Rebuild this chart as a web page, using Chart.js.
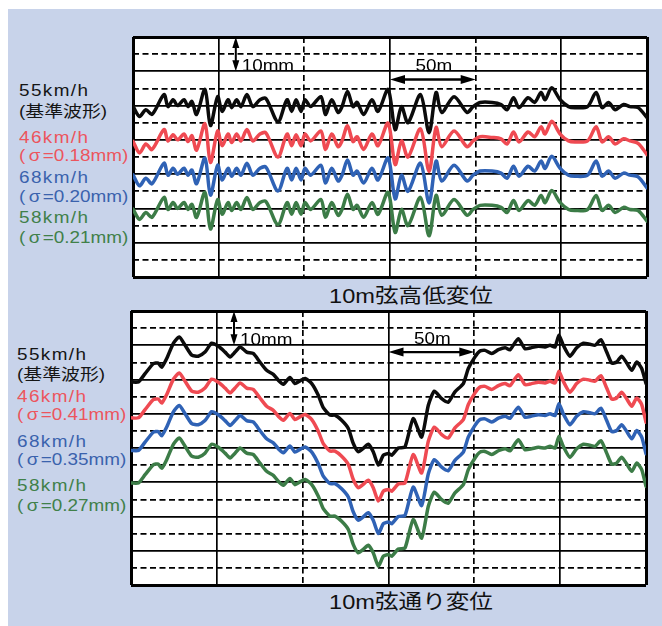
<!DOCTYPE html>
<html>
<head>
<meta charset="utf-8">
<script src="https://cdn.jsdelivr.net/npm/chart.js@4/dist/chart.umd.min.js"></script>
<style>
	body { margin: 0; width: 662px; height: 626px; position: relative; overflow: hidden; background: #fff;
		font-family: "Liberation Sans", "Noto Sans CJK JP", sans-serif; }
	#panel { position: absolute; left: 8px; top: 9px; width: 654px; height: 617px; background: #c8d3ea; }
	canvas { position: absolute; }
	.lbl { position: absolute; font-size: 16px; line-height: 16px; white-space: nowrap;
		transform: scaleX(1.18); transform-origin: 0 0; }
	.spd { letter-spacing: 1.2px; }
	.sg { margin: 0 2px 0 3px; }
	.ttl { position: absolute; width: 240px; text-align: center; font-size: 20px; line-height: 20px;
		white-space: nowrap; transform: scaleX(1.18); transform-origin: 50% 0; color: #111; }
</style>
</head>
<body>
<div id="panel"></div>
<canvas id="cntx_high" width="520" height="246" style="left:130px;top:34px"></canvas>
<canvas id="cntx_line" width="521" height="280" style="left:128px;top:308px"></canvas>
<script>
// distance along track (m)
const highDist = [0, 3.8, 7.5, 11.1, 18.1, 20.4, 23.4, 26, 29.8, 32.1,
	34.4, 37.1, 42, 45.2, 49.4, 52, 55.5, 57.6, 60.5, 63,
	66.5, 69.9, 74.1, 77.6, 84.6, 89.9, 92.6, 95.2, 98.1, 100.4,
	103.7, 109.7, 112.3, 116, 119.7, 122, 125.2, 128.4, 130.8, 134.6,
	139.5, 143, 148.9, 153, 156.7, 160.5, 167.8, 172.8, 176.9, 180.2,
	187.4, 195, 198.5, 202.6, 209.6, 214.8, 218.3, 222.1, 225.3, 230.6,
	234.4, 238.2, 240.5, 244.4, 249.3, 254.2, 257.9, 265.3, 270.3, 273.8,
	277.6, 281.4, 286.3, 290, 294.8, 300];

// 10m弦高低変位 (mm, traces shown with display offsets)
const high55 = [49.8, 46.8, 48.8, 47.4, 53.2, 49.7, 51.7, 50, 51.7, 49.7,
	51.2, 47.4, 54.7, 44.2, 52.6, 48.3, 51.7, 49.4, 51.7, 49.7,
	53.2, 49.7, 51.7, 52, 45.3, 51.7, 48.3, 51.7, 48.3, 51.7,
	49.7, 52.6, 47.4, 51.7, 48, 49.7, 54.1, 49.7, 50.9, 47.4,
	51.7, 48.3, 54.7, 43, 49.7, 45, 53.2, 42.1, 53.8, 48,
	52.6, 48, 49.7, 50.9, 50.9, 50.3, 48.8, 52.3, 49.4, 52.3,
	50.9, 53.8, 51.7, 55.2, 51.7, 49.7, 49.4, 49.7, 53.8, 49.4,
	50.9, 48.8, 50.3, 49.7, 49.4, 46.5];
const high46 = [39.6, 36.2, 38.8, 37.2, 43.0, 39.7, 41.5, 40, 41.7, 39.5,
	41.2, 37.0, 44.7, 33.4, 42.6, 38.3, 41.7, 39.2, 41.7, 39.7,
	43.0, 39.7, 41.7, 42, 35.0, 41.7, 38.3, 41.5, 38.3, 41.7,
	39.7, 42.6, 37.2, 41.7, 38, 39.7, 44.1, 39.5, 40.9, 37.2,
	41.7, 38.3, 44.9, 32.8, 39.7, 35, 43.2, 30.8, 43.6, 38,
	42.6, 38, 39.7, 40.9, 40.7, 40.3, 38.8, 42.3, 39.4, 42.3,
	40.9, 43.8, 41.7, 45.4, 41.7, 39.7, 39.4, 39.7, 43.8, 39.4,
	40.9, 38.8, 40.3, 39.7, 39.0, 35.7];
const high68 = [29.8, 26.6, 28.8, 27.2, 33.2, 29.7, 31.7, 30, 31.7, 29.7,
	31.2, 27.2, 34.7, 23.9, 32.6, 28.3, 31.7, 29.4, 31.7, 29.7,
	33.2, 29.7, 31.7, 32, 25.1, 31.7, 28.3, 31.7, 28.3, 31.7,
	29.7, 32.6, 27.4, 31.7, 28, 29.7, 34.1, 29.7, 30.9, 27.4,
	31.7, 28.3, 34.7, 22.8, 29.7, 25, 33.2, 21.6, 33.8, 28,
	32.6, 28, 29.7, 30.9, 30.9, 30.3, 28.8, 32.3, 29.4, 32.3,
	30.9, 33.8, 31.7, 35.2, 31.7, 29.7, 29.4, 29.7, 33.8, 29.4,
	30.9, 28.8, 30.3, 29.7, 29.2, 26.0];
const high58 = [19.8, 16.8, 18.8, 17.4, 23.2, 19.7, 21.7, 20, 21.7, 19.7,
	21.2, 17.4, 24.7, 14.0, 22.6, 18.3, 21.7, 19.4, 21.7, 19.7,
	23.2, 19.7, 21.7, 22, 15.3, 21.7, 18.3, 21.7, 18.3, 21.7,
	19.7, 22.6, 17.4, 21.7, 18, 19.7, 24.1, 19.7, 20.9, 17.4,
	21.7, 18.3, 24.7, 13, 19.7, 15, 23.2, 12.0, 23.8, 18,
	22.6, 18, 19.7, 20.9, 20.9, 20.3, 18.8, 22.3, 19.4, 22.3,
	20.9, 23.8, 21.7, 25.2, 21.7, 19.7, 19.4, 19.7, 23.8, 19.4,
	20.9, 18.8, 20.3, 19.7, 19.4, 16.3];

const lineDist = [0, 4.3, 8.2, 13, 15.9, 17.9, 20.8, 24.6, 28.1, 31.5,
	35.4, 39.2, 43.1, 47, 50.9, 54.8, 57.7, 60.6, 63.5, 67.4,
	71.2, 75.1, 79, 82.9, 85.8, 88.7, 92.6, 95.5, 98.4, 101.4,
	105.3, 109.1, 112, 115.9, 118.8, 122.7, 126.6, 129.5, 132.4, 135.3,
	138.2, 141.1, 144.1, 147, 149.9, 151.9, 155.7, 159.6, 164.4, 169.3,
	173.2, 176.7, 181, 184.8, 188.7, 193.6, 196.5, 200.4, 203.3, 206.2,
	210.1, 214, 217.9, 220.8, 225.6, 229.5, 233.4, 237.3, 241.2, 244.1,
	247, 249.3, 251.8, 255.7, 259.6, 263.5, 267.4, 270.3, 273.8, 277.1,
	280, 282.9, 285.8, 288.8, 291.7, 294.6, 297.5, 300];

// 10m弦通り変位 (mm, traces shown with display offsets)
const line55 = [59.3, 59.3, 61.7, 64.6, 64.8, 63.6, 66.1, 70.5, 72.4, 70,
	67.1, 66.8, 68, 70.6, 69.7, 68, 66.6, 68, 69.5, 68,
	67.6, 65.1, 62.7, 61.5, 59.8, 58.6, 60.6, 58.8, 59.6, 60.3,
	58.8, 55.4, 51.8, 49.6, 49.6, 48.1, 45.7, 41.3, 38.9, 39.9,
	41.1, 38.9, 35, 37.9, 38.4, 37.9, 40, 40.3, 48.6, 43.2,
	52.5, 56.6, 54.4, 53.4, 56.4, 58.8, 63.2, 66.6, 68.3, 68.5,
	67.6, 68.7, 69.3, 68.7, 71.9, 69, 69.3, 69.7, 69.5, 70,
	69.5, 72.9, 70, 66.8, 69.3, 70.6, 70.3, 70, 71.6, 68,
	64.8, 65.1, 66.8, 64.8, 62.7, 65.1, 63.2, 58.8];
const line46 = [48.8, 48.8, 51.2, 54.1, 54.3, 53.1, 55.6, 60, 61.9, 59.5,
	56.6, 56.3, 57.5, 60.1, 59.2, 57.5, 56.1, 57.5, 59, 57.5,
	57.1, 54.6, 52.2, 51, 49.3, 48.1, 50.1, 48.3, 49.1, 49.8,
	48.3, 44.9, 41.3, 39.1, 39.1, 37.6, 35.2, 30.8, 28.4, 29.4,
	30.6, 28.4, 24.5, 27.4, 27.9, 27.4, 29.5, 29.8, 38.1, 32.7,
	42, 46.1, 43.9, 42.9, 45.9, 48.3, 52.7, 56.1, 57.8, 58,
	57.1, 58.2, 58.8, 58.2, 61.4, 58.5, 58.8, 59.2, 59, 59.5,
	59, 62.4, 59.5, 56.3, 58.8, 60.1, 59.8, 59.5, 61.1, 57.5,
	54.3, 54.6, 56.3, 54.3, 52.2, 54.6, 52.7, 47.5];
const line68 = [39.3, 39.3, 41.7, 44.6, 44.8, 43.6, 46.1, 50.5, 52.4, 50,
	47.1, 46.8, 48, 50.6, 49.7, 48, 46.6, 48, 49.5, 48,
	47.6, 45.1, 42.7, 41.5, 39.8, 38.6, 40.6, 38.8, 39.6, 40.3,
	38.8, 35.4, 31.8, 29.6, 29.6, 28.1, 25.7, 21.3, 18.9, 19.9,
	21.1, 18.9, 15, 17.9, 18.4, 17.9, 20, 20.3, 28.6, 23.2,
	32.5, 36.6, 34.4, 33.4, 36.4, 38.8, 43.2, 46.6, 48.3, 48.5,
	47.6, 48.7, 49.3, 48.7, 51.9, 49, 49.3, 49.7, 49.5, 50,
	49.5, 52.9, 50, 46.8, 49.3, 50.6, 50.3, 50, 51.6, 48,
	44.8, 45.1, 46.8, 44.8, 42.7, 45.1, 43.2, 38.3];
const line58 = [29.8, 29.8, 32.2, 35.1, 35.3, 34.1, 36.6, 41, 42.9, 40.5,
	37.6, 37.3, 38.5, 41.1, 40.2, 38.5, 37.1, 38.5, 40, 38.5,
	38.1, 35.6, 33.2, 32, 30.3, 29.1, 31.1, 29.3, 30.1, 30.8,
	29.3, 25.9, 22.3, 20.1, 20.1, 18.6, 16.2, 11.8, 9.4, 10.4,
	11.6, 9.4, 5.5, 8.4, 8.9, 8.4, 10.5, 10.8, 19.1, 13.7,
	23, 27.1, 24.9, 23.9, 26.9, 29.3, 33.7, 37.1, 38.8, 39,
	38.1, 39.2, 39.8, 39.2, 42.4, 39.5, 39.8, 40.2, 40, 40.5,
	40, 43.4, 40.5, 37.3, 39.8, 41.1, 40.8, 40.5, 42.1, 38.5,
	35.3, 35.6, 37.3, 35.3, 33.2, 35.6, 33.7, 28.8];

const speeds = ["55km/h", "46km/h", "68km/h", "58km/h"];
const highNotes = ["(基準波形)", "(σ=0.18mm)", "(σ=0.20mm)", "(σ=0.21mm)"];
const lineNotes = ["(基準波形)", "(σ=0.41mm)", "(σ=0.35mm)", "(σ=0.27mm)"];

const lineColors = ["#0b0b0b", "#ef4a52", "#2f62b5", "#3c7c47"];
const textColors = ["#151515", "#ec555d", "#3a62ad", "#408049"];

const plotBg = {
	id: "plotBg",
	beforeDraw: (chart) => {
		const { ctx, chartArea: a } = chart;
		ctx.save();
		ctx.fillStyle = "#fff";
		ctx.fillRect(a.left, a.top, a.width, a.height);
		ctx.restore();
	},
};

arrowHead = (ctx, tx, ty, dx, dy, len, half) => {
	ctx.beginPath();
	ctx.moveTo(tx, ty);
	ctx.lineTo(tx + dx * len - dy * half, ty + dy * len + dx * half);
	ctx.lineTo(tx + dx * len + dy * half, ty + dy * len - dx * half);
	ctx.closePath();
	ctx.fill();
};

stretchText = (ctx, text, x, y, align) => {
	ctx.save();
	ctx.translate(x, y);
	ctx.scale(1.18, 1);
	ctx.textAlign = align;
	ctx.fillText(text, 0, 0);
	ctx.restore();
};

const marks = {
	id: "marks",
	afterDraw: (chart, args, opts) => {
		const { ctx } = chart;
		const xs = chart.scales.x;
		const ys = chart.scales.y;
		ctx.save();
		ctx.fillStyle = "#000";
		ctx.strokeStyle = "#000";
		ctx.lineWidth = 2;
		// 10mm scale arrow
		const vx = xs.getPixelForValue(opts.vArrow[0]);
		const vy1 = ys.getPixelForValue(opts.vArrow[1]);
		const vy2 = ys.getPixelForValue(opts.vArrow[2]);
		ctx.beginPath();
		ctx.moveTo(vx, vy1 + 4);
		ctx.lineTo(vx, vy2 - 4);
		ctx.stroke();
		arrowHead(ctx, vx, vy1, 0, 1, 11, 3.5);
		arrowHead(ctx, vx, vy2, 0, -1, 11, 3.5);
		// 50m scale arrow
		const hx1 = xs.getPixelForValue(opts.hArrow[0]);
		const hx2 = xs.getPixelForValue(opts.hArrow[1]);
		const hy = ys.getPixelForValue(opts.hArrow[2]);
		ctx.lineWidth = 2.4;
		ctx.beginPath();
		ctx.moveTo(hx1 + 6, hy);
		ctx.lineTo(hx2 - 6, hy);
		ctx.stroke();
		arrowHead(ctx, hx1, hy, 1, 0, 15, 4.5);
		arrowHead(ctx, hx2, hy, -1, 0, 15, 4.5);
		ctx.font = '16px "Liberation Sans"';
		ctx.textBaseline = "alphabetic";
		stretchText(ctx, "10mm", xs.getPixelForValue(opts.vText[0]), ys.getPixelForValue(opts.vText[1]), "left");
		stretchText(ctx, "50m", xs.getPixelForValue(opts.hText[0]), ys.getPixelForValue(opts.hText[1]), "center");
		ctx.restore();
	},
};

drawChart = (canvas, dist, series, ymax, marksOpt, tension) => {
	const isEdge = (c, max) => c.tick && (c.tick.value === 0 || c.tick.value === max);
	return new Chart(canvas, {
		type: "line",
		data: {
			datasets: series.map((s, i) => ({
				label: speeds[i],
				data: dist.map((d, j) => ({ x: d, y: s[j] })),
				borderColor: lineColors[i],
				borderWidth: 3.5,
				pointRadius: 0,
				tension: tension,
				borderJoinStyle: "round",
				borderCapStyle: "round",
				fill: false,
			})),
		},
		options: {
			responsive: false,
			animation: false,
			events: [],
			layout: { padding: 3 },
			plugins: { legend: { display: false }, tooltip: { enabled: false }, marks: marksOpt },
			scales: {
				x: {
					type: "linear",
					min: 0,
					max: 300,
					ticks: { display: false, stepSize: 50 },
					grid: { color: "#000", drawTicks: false, lineWidth: (c) => (isEdge(c, 300) ? 3 : 1.7) },
					// solid every odd 50 m, dashed on the 100 m marks
					border: {
						display: false,
						dash: (c) => (c.tick && !isEdge(c, 300) && c.tick.value % 100 === 0 ? [6, 3.5] : []),
					},
				},
				y: {
					min: 0,
					max: ymax,
					ticks: { display: false, stepSize: 5 },
					grid: { color: "#000", drawTicks: false, lineWidth: (c) => (isEdge(c, ymax) ? 3 : 1.7) },
					border: { display: false, dash: (c) => (c.tick && c.tick.value % 10 !== 0 ? [6, 3.5] : []) },
				},
			},
		},
		plugins: [plotBg, marks],
	});
};

drawChart(document.querySelector("#cntx_high"), highDist, [high55, high46, high68, high58], 70,
	{ vArrow: [60, 70, 60], vText: [63.4, 60.2], hArrow: [150, 200, 57.6], hText: [175.6, 60.2] }, 0.3);
drawChart(document.querySelector("#cntx_line"), lineDist, [line55, line46, line68, line58], 80,
	{ vArrow: [60, 80, 70], vText: [63.5, 70.2], hArrow: [150, 200, 68], hText: [175.6, 70.4] }, 0.2);

// side labels and captions
addText = (cls, html, left, top, color) => {
	const el = document.createElement("div");
	el.className = cls;
	el.innerHTML = html;
	el.style.left = left + "px";
	el.style.top = top + "px";
	if (color) el.style.color = color;
	document.body.appendChild(el);
};
const highTops = [83, 104, 130, 148, 170, 189, 210, 230];
const lineTops = [347, 367, 389, 407, 434, 452, 478, 498];
speeds.forEach((s, i) => {
	addText("lbl spd", s, 19, highTops[i * 2], textColors[i]);
	addText("lbl", highNotes[i].replace("σ", '<span class="sg">σ</span>'), 19, highTops[i * 2 + 1], textColors[i]);
	addText("lbl spd", s, 17, lineTops[i * 2], textColors[i]);
	addText("lbl", lineNotes[i].replace("σ", '<span class="sg">σ</span>'), 17, lineTops[i * 2 + 1], textColors[i]);
});
addText("ttl", "10m弦高低変位", 291, 286);
addText("ttl", "10m弦通り変位", 291, 592);
</script>
</body>
</html>
